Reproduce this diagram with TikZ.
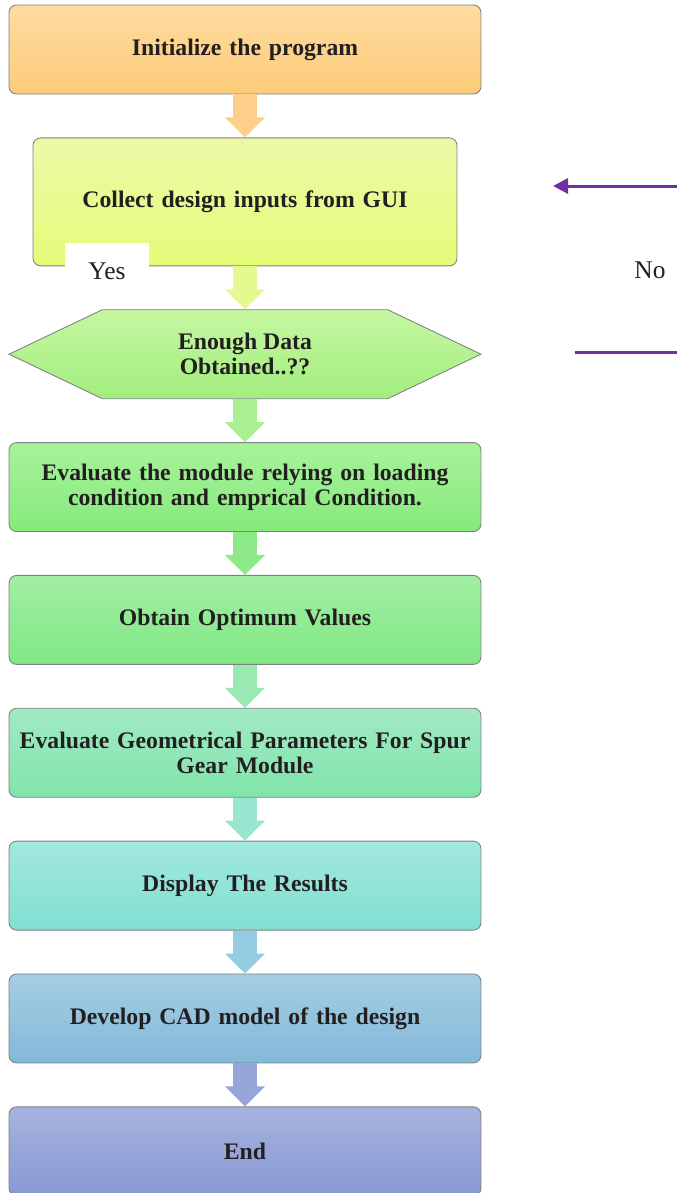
\documentclass[tikz,border=0pt]{standalone}
\usepackage{fontspec}
\setmainfont{Liberation Serif}
\usetikzlibrary{arrows.meta, positioning, shapes.symbols}
\definecolor{boxline}{RGB}{128,128,128}
\definecolor{txtcolor}{RGB}{35,31,32}
\definecolor{loopcolor}{RGB}{112,48,160}
% box shades, top and bottom
\definecolor{initA}{RGB}{254,220,160}  \definecolor{initB}{RGB}{252,203,120}
\definecolor{collA}{RGB}{237,248,168}  \definecolor{collB}{RGB}{229,252,120}
\definecolor{decA}{RGB}{198,247,162}   \definecolor{decB}{RGB}{162,238,126}
\definecolor{evalA}{RGB}{168,242,156}  \definecolor{evalB}{RGB}{134,234,124}
\definecolor{optA}{RGB}{162,238,164}   \definecolor{optB}{RGB}{128,232,132}
\definecolor{geomA}{RGB}{162,234,196}  \definecolor{geomB}{RGB}{128,228,170}
\definecolor{dispA}{RGB}{162,232,222}  \definecolor{dispB}{RGB}{128,224,210}
\definecolor{cadA}{RGB}{166,206,226}   \definecolor{cadB}{RGB}{130,184,218}
\definecolor{endA}{RGB}{166,178,222}   \definecolor{endB}{RGB}{136,152,212}
% block arrow colours
\definecolor{arrA}{RGB}{253,207,138}
\definecolor{arrB}{RGB}{228,250,144}
\definecolor{arrC}{RGB}{168,240,146}
\definecolor{arrD}{RGB}{142,234,136}
\definecolor{arrE}{RGB}{152,234,178}
\definecolor{arrF}{RGB}{152,230,208}
\definecolor{arrG}{RGB}{148,204,226}
\definecolor{arrH}{RGB}{150,166,216}
\newcommand{\boxfont}{\bfseries\fontsize{13.5}{14.5}\selectfont}
\newcommand{\labelfont}{\fontsize{14.5}{16}\selectfont}
\tikzset{
  stepbox/.style  = {draw=boxline, line width=0.5pt, rounded corners=0.15cm,
                     minimum width=9.44cm, minimum height=1.78cm, text width=9.3cm,
                     align=center, font=\boxfont, text=txtcolor, inner sep=2pt},
  decbox/.style   = {signal, signal to=west and east, signal pointer angle=51,
                     draw=boxline, line width=0.5pt, minimum width=9.44cm,
                     minimum height=1.78cm, align=center, font=\boxfont,
                     text=txtcolor, inner sep=2pt},
  flow/.style     = {line width=0.48cm, -{Triangle[length=0.4cm, width=0.78cm]}},
  backline/.style = {line width=0.06cm, color=loopcolor},
  answer/.style   = {font=\labelfont, text=txtcolor, inner sep=0pt},
}

\begin{document}
\begin{tikzpicture}[x=0.02cm, y=-0.02cm, node distance=0.86cm]
  \useasboundingbox (0,0) rectangle (677,1193);
  % main column
  \node[stepbox, top color=initA, bottom color=initB] (init) at (245,49.5) {Initialize the program};
  \node[stepbox, top color=collA, bottom color=collB, minimum width=8.48cm,
        minimum height=2.56cm, text width=8.3cm, below=of init] (collect)
        {Collect design inputs from GUI};
  \node[decbox, top color=decA, bottom color=decB, below=of collect] (dec)
        {Enough Data\\Obtained..??};
  \node[stepbox, top color=evalA, bottom color=evalB, below=of dec] (eval)
        {Evaluate the module relying on loading\\ condition and emprical Condition.};
  \node[stepbox, top color=optA, bottom color=optB, below=of eval] (opt)
        {Obtain Optimum Values};
  \node[stepbox, top color=geomA, bottom color=geomB, below=of opt] (geom)
        {Evaluate Geometrical Parameters For Spur\\ Gear Module};
  \node[stepbox, top color=dispA, bottom color=dispB, below=of geom] (disp)
        {Display The Results};
  \node[stepbox, top color=cadA, bottom color=cadB, below=of disp] (cad)
        {Develop CAD model of the design};
  \node[stepbox, top color=endA, bottom color=endB, below=of cad] (end)
        {End};
  % block arrows
  \foreach \a/\b/\c in {init/collect/arrA, collect/dec/arrB, dec/eval/arrC,
                        eval/opt/arrD, opt/geom/arrE, geom/disp/arrF,
                        disp/cad/arrG, cad/end/arrH} {
    \draw[flow, draw=\c] (\a.south) -- (\b.north);
  }
  % answers
  \node[answer, fill=white, minimum width=1.7cm, minimum height=1.12cm] (yes) at (107,271) {Yes};
  \node[answer] (no) at (650,270) {No};
  % loop back
  \coordinate (backA) at (677,186);
  \coordinate (backTip) at (553,186);
  \coordinate (backB) at (677,352);
  \coordinate (backC) at (575,352);
  \draw[backline, -{Triangle[length=0.3cm, width=0.3cm]}] (backA) -- (backTip);
  \draw[backline] (backB) -- (backC);
\end{tikzpicture}
\end{document}
